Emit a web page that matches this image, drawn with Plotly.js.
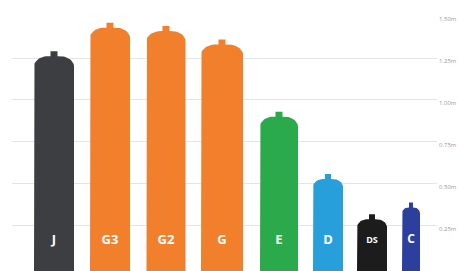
<!DOCTYPE html>
<html><head><meta charset="utf-8">
<script src="https://cdn.plot.ly/plotly-3.0.1.min.js"></script>
<style>html,body{margin:0;padding:0;background:#fff}#c{width:458px;height:271px}</style>
</head><body><div id="c"></div>
<script>
// Data (heights in metres)
const cylinders = ["J", "G3", "G2", "G", "E", "D", "DS", "C"];
const heights = [1.29, 1.46, 1.44, 1.36, 0.93, 0.56, 0.32, 0.39];
const tickVals = [0.25, 0.5, 0.75, 1.0, 1.25, 1.5];
const tickText = ["0.25m", "0.50m", "0.75m", "1.00m", "1.25m", "1.50m"];

// Styles / layout
const xPos = [42, 98, 154, 210, 267, 316, 360, 399];
const bodyW = [40, 40, 39, 42, 38, 30, 30, 18];
const shoulderRx = [14, 14, 14, 15, 13, 11, 11, 6];
const shoulderRyPx = [10, 10, 10, 10, 10, 8, 8, 6];
const neckW = [7, 7, 7, 7, 7, 6, 6, 4];
const colors = ["#3c3e41", "#f27f2b", "#f27f2b", "#f27f2b", "#2aaa4b", "#279fda", "#1c1c1c", "#2c3f9e"];
const neckPx = 5;
const labelSizes = [13, 13, 13, 13, 13, 13, 9, 12];
const yMin = -0.018, yMax = 1.5, plotHpx = 255;
const mPerPx = (yMax - yMin) / plotHpx;

function outline(i) {
  const cx = xPos[i], hw = bodyW[i] / 2, rx = shoulderRx[i];
  const ry = shoulderRyPx[i] * mPerPx, nk = neckPx * mPerPx, nw = neckW[i] / 2;
  const top = heights[i] - nk;
  const xs = [], ys = [];
  xs.push(cx - hw); ys.push(yMin);
  const N = 12;
  for (let k = 0; k <= N; k++) { // left shoulder
    const a = Math.PI - (Math.PI / 2) * k / N;
    xs.push(cx - hw + rx + rx * Math.cos(a)); ys.push(top - ry + ry * Math.sin(a));
  }
  xs.push(cx - nw, cx - nw, cx + nw, cx + nw); ys.push(top, heights[i], heights[i], top);
  for (let k = 0; k <= N; k++) { // right shoulder
    const a = Math.PI / 2 - (Math.PI / 2) * k / N;
    xs.push(cx + hw - rx + rx * Math.cos(a)); ys.push(top - ry + ry * Math.sin(a));
  }
  xs.push(cx + hw); ys.push(yMin);
  return {xs, ys};
}

const traces = cylinders.map((name, i) => {
  const o = outline(i);
  return {type: "scatter", mode: "lines", x: o.xs, y: o.ys, fill: "toself",
    fillcolor: colors[i], line: {width: 0, color: colors[i]}, hoverinfo: "skip", name};
});
traces.push({
  type: "scatter", mode: "text", x: xPos, y: cylinders.map(() => 0.165), text: cylinders,
  textfont: {color: "#ffffff", size: labelSizes, family: "Open Sans, sans-serif", weight: "bold"},
  hoverinfo: "skip"
});

Plotly.newPlot("c", traces, {
  width: 458, height: 271,
  margin: {l: 12, r: 21, t: 16, b: 0},
  paper_bgcolor: "#ffffff", plot_bgcolor: "#ffffff",
  showlegend: false,
  xaxis: {range: [0, 425], showgrid: false, zeroline: false, showticklabels: false, fixedrange: true},
  yaxis: {range: [yMin, yMax], side: "right", tickvals: tickVals, ticktext: tickText,
    showgrid: true, gridcolor: "#e4e4e4", gridwidth: 1, zeroline: false, showline: false,
    ticks: "", ticklabelstandoff: 1, ticklabelshift: 3,
    tickfont: {size: 6, color: "#9a9a9a", family: "Open Sans, sans-serif"}}
}, {displayModeBar: false, staticPlot: true});
</script></body></html>
